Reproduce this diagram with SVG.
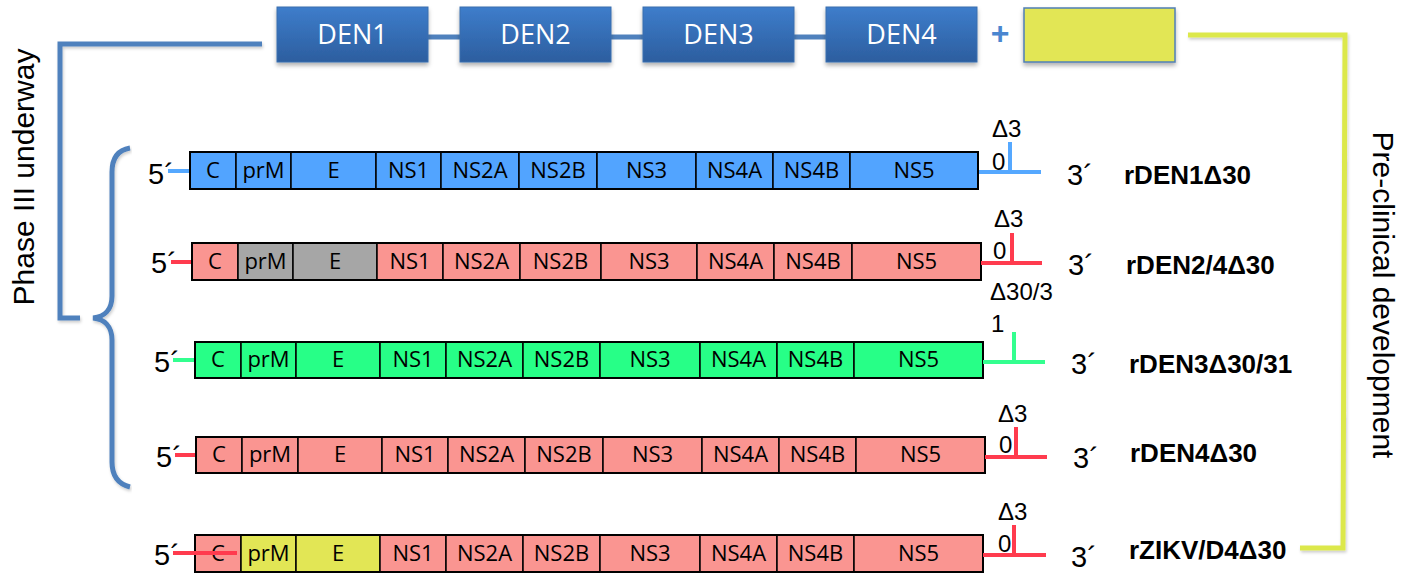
<svg xmlns="http://www.w3.org/2000/svg" width="1402" height="573" viewBox="0 0 1402 573">
<defs>
<linearGradient id="denGrad" x1="0" y1="0" x2="0" y2="1">
<stop offset="0" stop-color="#3E7DCB"/>
<stop offset="1" stop-color="#2C5E9F"/>
</linearGradient>
<filter id="shadow" x="-10%" y="-20%" width="120%" height="160%">
<feDropShadow dx="0" dy="3" stdDeviation="2" flood-color="#000" flood-opacity="0.3"/>
</filter>
<filter id="lshadow" x="-5%" y="-5%" width="110%" height="110%">
<feDropShadow dx="1" dy="2" stdDeviation="1.5" flood-color="#000" flood-opacity="0.2"/>
</filter>
</defs>
<style>
.den{fill:url(#denGrad);stroke:#3A6EAE;stroke-width:1}
.dent{font-family:"Open Sans","Noto Sans",sans-serif;font-size:27px;fill:#fff;text-anchor:middle}
.seg{stroke:#000;stroke-width:1.5}
.blue{fill:#52A4FF}.pink{fill:#FA9591}.gray{fill:#A6A6A6}.green{fill:#27FF87}.yel{fill:#E2E655}
.st{font-family:"Open Sans","Noto Sans",sans-serif;font-size:22px;fill:#000;text-anchor:middle}
.end{font-family:"Liberation Sans",Arial,sans-serif;font-size:29px;fill:#000}
.del{font-family:"Liberation Sans",Arial,sans-serif;font-size:24px;fill:#000}
.name{font-family:"Liberation Sans",Arial,sans-serif;font-size:26px;font-weight:bold;fill:#000}
.side{font-family:"Liberation Sans",Arial,sans-serif;font-size:30px;fill:#000;text-anchor:middle}
.lb{stroke:#55A8FF;stroke-width:4;fill:none}
.lr{stroke:#FF3B4E;stroke-width:4;fill:none}
.lg{stroke:#33FF8F;stroke-width:4;fill:none}
.brk{stroke:#4F81BD;stroke-width:5;fill:none}
.ybrk{stroke:#DCE84C;stroke-width:5;fill:none}
</style>

<g id="connectors">
<path class="brk" filter="url(#lshadow)" d="M262,44 L60,44 L60,318 L80,318"/>
<path class="brk" filter="url(#lshadow)" d="M130,148 C118,150 112,158 112,172 L112,296 C112,310 104,317 93,318 C104,319 112,326 112,340 L112,462 C112,476 118,484 130,487"/>
<path class="ybrk" filter="url(#lshadow)" d="M1188,35 L1345,35 L1343,548 L1300,548"/>
<line x1="428" y1="37" x2="460" y2="37" stroke="#4F81BD" stroke-width="5"/>
<line x1="611" y1="37" x2="643" y2="37" stroke="#4F81BD" stroke-width="5"/>
<line x1="794" y1="37" x2="826" y2="37" stroke="#4F81BD" stroke-width="5"/>
</g>

<g id="den1"><rect class="den" filter="url(#shadow)" x="277" y="7" width="151" height="55"/><text class="dent" x="352.5" y="44">DEN1</text></g>
<g id="den2"><rect class="den" filter="url(#shadow)" x="460" y="7" width="151" height="55"/><text class="dent" x="535.5" y="44">DEN2</text></g>
<g id="den3"><rect class="den" filter="url(#shadow)" x="643" y="7" width="151" height="55"/><text class="dent" x="718.5" y="44">DEN3</text></g>
<g id="den4"><rect class="den" filter="url(#shadow)" x="826" y="7" width="151" height="55"/><text class="dent" x="901.5" y="44">DEN4</text></g>
<g id="plus"><text x="1000" y="44" font-family="Liberation Sans,Arial,sans-serif" font-size="32" font-weight="bold" fill="#4A86D0" text-anchor="middle">+</text></g>
<g id="zikv-box"><rect filter="url(#shadow)" x="1024" y="8" width="151" height="54" fill="#E2E655" stroke="#4F7FB5" stroke-width="1.5"/></g>

<g id="phase-label"><text class="side" transform="translate(34,177) rotate(-90)">Phase III underway</text></g>
<g id="preclinical-label"><text class="side" transform="translate(1373,295) rotate(90)">Pre-clinical development</text></g>

<!-- Row 1 rDEN1Δ30 -->
<g id="row1">
<line class="lb" x1="168" y1="171" x2="190" y2="171"/>
<text class="end" x="148" y="184">5´</text>
<rect class="seg blue" x="190" y="152" width="46" height="37"/>
<rect class="seg blue" x="236" y="152" width="55" height="37"/>
<rect class="seg blue" x="291" y="152" width="85" height="37"/>
<rect class="seg blue" x="376" y="152" width="65" height="37"/>
<rect class="seg blue" x="441" y="152" width="78" height="37"/>
<rect class="seg blue" x="519" y="152" width="78" height="37"/>
<rect class="seg blue" x="597" y="152" width="99" height="37"/>
<rect class="seg blue" x="696" y="152" width="77" height="37"/>
<rect class="seg blue" x="773" y="152" width="77" height="37"/>
<rect class="seg blue" x="850" y="152" width="128" height="37"/>
<rect x="190" y="152" width="788" height="37" fill="none" stroke="#000" stroke-width="2"/>
<text class="st" x="213" y="178">C</text><text class="st" x="263.5" y="178">prM</text><text class="st" x="333.5" y="178">E</text><text class="st" x="408.5" y="178">NS1</text><text class="st" x="480" y="178">NS2A</text><text class="st" x="558" y="178">NS2B</text><text class="st" x="646.5" y="178">NS3</text><text class="st" x="734.5" y="178">NS4A</text><text class="st" x="811.5" y="178">NS4B</text><text class="st" x="914" y="178">NS5</text>
<line class="lb" x1="979" y1="172" x2="1041" y2="172"/>
<line class="lb" x1="1010" y1="142" x2="1010" y2="172"/>
<text class="del" x="992" y="137">Δ3</text><text class="del" x="992" y="170">0</text>
<text class="end" x="1067" y="185">3´</text>
<text class="name" x="1124" y="184">rDEN1Δ30</text>
</g>

<!-- Row 2 rDEN2/4Δ30 -->
<g id="row2">
<line class="lr" x1="171" y1="262" x2="192" y2="262"/>
<text class="end" x="151" y="273">5´</text>
<rect class="seg pink" x="192" y="243" width="46" height="37"/>
<rect class="seg gray" x="238" y="243" width="55" height="37"/>
<rect class="seg gray" x="293" y="243" width="84" height="37"/>
<rect class="seg pink" x="377" y="243" width="66" height="37"/>
<rect class="seg pink" x="443" y="243" width="77" height="37"/>
<rect class="seg pink" x="520" y="243" width="81" height="37"/>
<rect class="seg pink" x="601" y="243" width="96" height="37"/>
<rect class="seg pink" x="697" y="243" width="77" height="37"/>
<rect class="seg pink" x="774" y="243" width="78" height="37"/>
<rect class="seg pink" x="852" y="243" width="129" height="37"/>
<rect x="192" y="243" width="789" height="37" fill="none" stroke="#000" stroke-width="2"/>
<text class="st" x="215" y="269">C</text><text class="st" x="265.5" y="269">prM</text><text class="st" x="335" y="269">E</text><text class="st" x="410" y="269">NS1</text><text class="st" x="481.5" y="269">NS2A</text><text class="st" x="560.5" y="269">NS2B</text><text class="st" x="649" y="269">NS3</text><text class="st" x="735.5" y="269">NS4A</text><text class="st" x="813" y="269">NS4B</text><text class="st" x="916.5" y="269">NS5</text>
<line class="lr" x1="981" y1="263" x2="1042" y2="263"/>
<line class="lr" x1="1012" y1="233" x2="1012" y2="263"/>
<text class="del" x="994" y="227">Δ3</text><text class="del" x="993" y="259">0</text>
<text class="end" x="1068" y="275">3´</text>
<text class="name" x="1126" y="274">rDEN2/4Δ30</text>
</g>

<!-- Row 3 rDEN3Δ30/31 -->
<g id="row3">
<line class="lg" x1="173" y1="360" x2="195" y2="360"/>
<text class="end" x="154" y="372">5´</text>
<rect class="seg green" x="195" y="342" width="46" height="36"/>
<rect class="seg green" x="241" y="342" width="55" height="36"/>
<rect class="seg green" x="296" y="342" width="84" height="36"/>
<rect class="seg green" x="380" y="342" width="66" height="36"/>
<rect class="seg green" x="446" y="342" width="77" height="36"/>
<rect class="seg green" x="523" y="342" width="77" height="36"/>
<rect class="seg green" x="600" y="342" width="100" height="36"/>
<rect class="seg green" x="700" y="342" width="77" height="36"/>
<rect class="seg green" x="777" y="342" width="77" height="36"/>
<rect class="seg green" x="854" y="342" width="129" height="36"/>
<rect x="195" y="342" width="788" height="36" fill="none" stroke="#000" stroke-width="2"/>
<text class="st" x="218" y="367">C</text><text class="st" x="268.5" y="367">prM</text><text class="st" x="338" y="367">E</text><text class="st" x="413" y="367">NS1</text><text class="st" x="484.5" y="367">NS2A</text><text class="st" x="561.5" y="367">NS2B</text><text class="st" x="650" y="367">NS3</text><text class="st" x="738.5" y="367">NS4A</text><text class="st" x="815.5" y="367">NS4B</text><text class="st" x="918.5" y="367">NS5</text>
<line class="lg" x1="983" y1="362" x2="1045" y2="362"/>
<line class="lg" x1="1014" y1="332" x2="1014" y2="362"/>
<text class="del" x="990" y="300">Δ30/3</text><text class="del" x="991" y="332">1</text>
<text class="end" x="1071" y="374">3´</text>
<text class="name" x="1129" y="373">rDEN3Δ30/31</text>
</g>

<!-- Row 4 rDEN4Δ30 -->
<g id="row4">
<line class="lr" x1="175" y1="455" x2="196" y2="455"/>
<text class="end" x="156" y="467">5´</text>
<rect class="seg pink" x="196" y="437" width="46" height="36"/>
<rect class="seg pink" x="242" y="437" width="56" height="36"/>
<rect class="seg pink" x="298" y="437" width="84" height="36"/>
<rect class="seg pink" x="382" y="437" width="66" height="36"/>
<rect class="seg pink" x="448" y="437" width="77" height="36"/>
<rect class="seg pink" x="525" y="437" width="78" height="36"/>
<rect class="seg pink" x="603" y="437" width="99" height="36"/>
<rect class="seg pink" x="702" y="437" width="77" height="36"/>
<rect class="seg pink" x="779" y="437" width="77" height="36"/>
<rect class="seg pink" x="856" y="437" width="129" height="36"/>
<rect x="196" y="437" width="789" height="36" fill="none" stroke="#000" stroke-width="2"/>
<text class="st" x="219" y="462">C</text><text class="st" x="270" y="462">prM</text><text class="st" x="340" y="462">E</text><text class="st" x="415" y="462">NS1</text><text class="st" x="486.5" y="462">NS2A</text><text class="st" x="564" y="462">NS2B</text><text class="st" x="652.5" y="462">NS3</text><text class="st" x="740.5" y="462">NS4A</text><text class="st" x="817.5" y="462">NS4B</text><text class="st" x="920.5" y="462">NS5</text>
<line class="lr" x1="985" y1="457" x2="1047" y2="457"/>
<line class="lr" x1="1016" y1="427" x2="1016" y2="457"/>
<text class="del" x="998" y="422">Δ3</text><text class="del" x="999" y="453">0</text>
<text class="end" x="1073" y="468">3´</text>
<text class="name" x="1130" y="462">rDEN4Δ30</text>
</g>

<!-- Row 5 rZIKV/D4Δ30 -->
<g id="row5">
<text class="end" x="154" y="565">5´</text>
<rect class="seg pink" x="195" y="535" width="46" height="37"/>
<rect class="seg yel" x="241" y="535" width="55" height="37"/>
<rect class="seg yel" x="296" y="535" width="84" height="37"/>
<rect class="seg pink" x="380" y="535" width="66" height="37"/>
<rect class="seg pink" x="446" y="535" width="77" height="37"/>
<rect class="seg pink" x="523" y="535" width="77" height="37"/>
<rect class="seg pink" x="600" y="535" width="100" height="37"/>
<rect class="seg pink" x="700" y="535" width="77" height="37"/>
<rect class="seg pink" x="777" y="535" width="77" height="37"/>
<rect class="seg pink" x="854" y="535" width="129" height="37"/>
<rect x="195" y="535" width="788" height="37" fill="none" stroke="#000" stroke-width="2"/>
<text class="st" x="218" y="561">C</text><text class="st" x="268.5" y="561">prM</text><text class="st" x="338" y="561">E</text><text class="st" x="413" y="561">NS1</text><text class="st" x="484.5" y="561">NS2A</text><text class="st" x="561.5" y="561">NS2B</text><text class="st" x="650" y="561">NS3</text><text class="st" x="738.5" y="561">NS4A</text><text class="st" x="815.5" y="561">NS4B</text><text class="st" x="918.5" y="561">NS5</text>
<line class="lr" x1="173" y1="553" x2="237" y2="553"/>
<line class="lr" x1="983" y1="555" x2="1046" y2="555"/>
<line class="lr" x1="1014" y1="525" x2="1014" y2="555"/>
<text class="del" x="998" y="520">Δ3</text><text class="del" x="998" y="552">0</text>
<text class="end" x="1071" y="567">3´</text>
<text class="name" x="1129" y="559">rZIKV/D4Δ30</text>
</g>
</svg>
